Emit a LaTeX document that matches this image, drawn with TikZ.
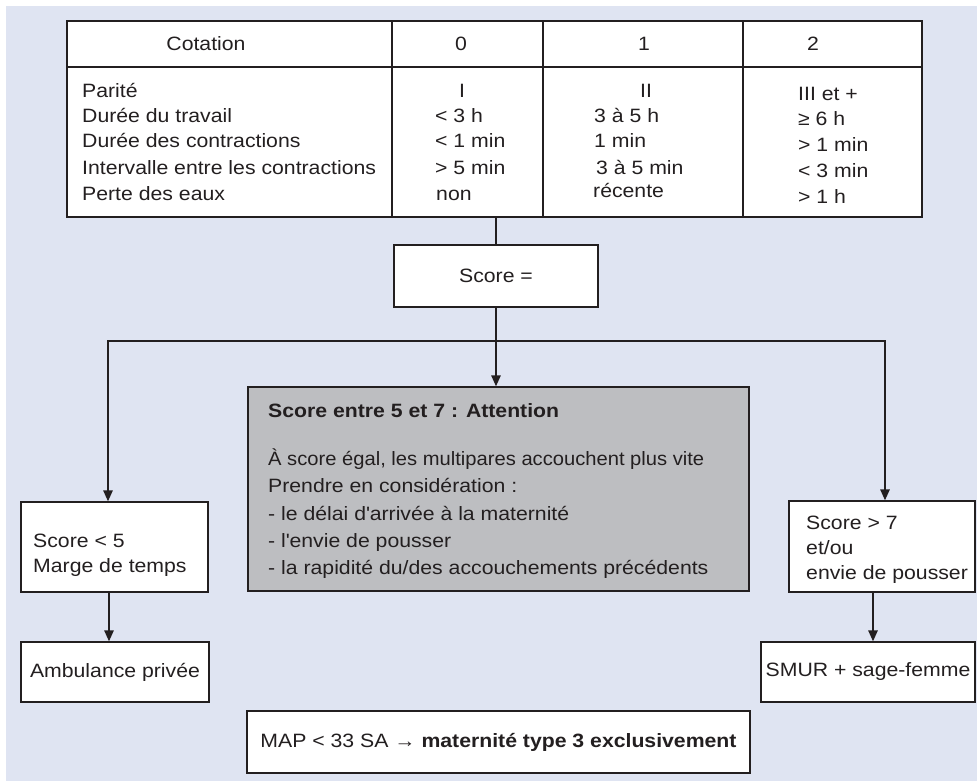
\documentclass[tikz,border=0pt]{standalone}
\usepackage{fontspec}
\setmainfont[FakeStretch=1.1]{Liberation Sans}
\usetikzlibrary{arrows.meta}
\definecolor{bgblue}{HTML}{DFE4F2}
\definecolor{boxgrey}{HTML}{BDBEC1}
\definecolor{ink}{HTML}{231F20}
\newcommand\fs{\fontsize{19.3}{25}\selectfont}
\tikzset{
  box/.style={draw=ink, line width=1.4pt, fill=white, inner sep=0pt},
  greybox/.style={box, fill=boxgrey},
  txt/.style={anchor=base west, inner sep=0pt, text=ink, font=\fs},
  ctxt/.style={anchor=base, inner sep=0pt, text=ink, font=\fs},
  link/.style={draw=ink, line width=1.4pt},
  arr/.style={link, -{Triangle[length=11pt,width=9.5pt]}}
}
\begin{document}
\begin{tikzpicture}[x=1pt,y=-1pt]
\useasboundingbox (0,0) rectangle (977,781);
\fill[bgblue] (6,6) rectangle (977,781);

% table
\node[box, minimum width=855pt, minimum height=196pt] (tbl) at (494.5,119) {};
\draw[link] (67,67) -- (922,67);
\draw[link] (392,21) -- (392,217);
\draw[link] (543,21) -- (543,217);
\draw[link] (743,21) -- (743,217);

\node[ctxt] (h0) at (206,51) {Cotation};
\node[ctxt] (h1) at (461,51) {0};
\node[ctxt] (h2) at (644,51) {1};
\node[ctxt] (h3) at (813,51) {2};

\node[txt] (l1) at (82,98) {Parité};
\node[txt] (l2) at (82,123) {Durée du travail};
\node[txt] (l3) at (82,148) {Durée des contractions};
\node[txt] (l4) at (82,174) {Intervalle entre les contractions};
\node[txt] (l5) at (82,200) {Perte des eaux};

\node[ctxt] (a1) at (462,98) {I};
\node[txt] (a2) at (435,123) {< 3 h};
\node[txt] (a3) at (435,148) {< 1 min};
\node[txt] (a4) at (435,174) {> 5 min};
\node[txt] (a5) at (436,200) {non};

\node[ctxt] (b1) at (646,98) {II};
\node[txt] (b2) at (594,123) {3 à 5 h};
\node[txt] (b3) at (594,148) {1 min};
\node[txt] (b4) at (596,175) {3 à 5 min};
\node[txt] (b5) at (593,197) {récente};

\node[txt] (c1) at (798,101) {III et +};
\node[txt] (c2) at (798,126) {≥ 6 h};
\node[txt] (c3) at (798,151) {> 1 min};
\node[txt] (c4) at (798,177) {< 3 min};
\node[txt] (c5) at (798,203) {> 1 h};

% score box
\node[box, minimum width=204pt, minimum height=62pt, font=\fs, text=ink] (score) at (496,276) {Score =};

% grey box
\node[greybox, minimum width=501pt, minimum height=204pt] (grey) at (498.5,489) {};
\node[txt, font=\fs\bfseries] (g0) at (268,417) {Score entre 5 et 7 : Attention};
\node[txt] (g1) at (268,465) {\scalebox{0.95}[1]{À score égal, les multipares accouchent plus vite}};
\node[txt] (g2) at (268,492) {Prendre en considération :};
\node[txt] (g3) at (268,520) {- le délai d\textquotesingle arrivée à la maternité};
\node[txt] (g4) at (268,547) {- l\textquotesingle envie de pousser};
\node[txt] (g5) at (268,574) {- la rapidité du/des accouchements précédents};

% left branch
\node[box, minimum width=187pt, minimum height=90pt] (low) at (114.5,547) {};
\node[txt] (lowt1) at (33,547) {Score < 5};
\node[txt] (lowt2) at (33,572) {Marge de temps};
\node[box, minimum width=188pt, minimum height=60pt, font=\fs, text=ink] (amb) at (115,672) {Ambulance privée};

% right branch
\node[box, minimum width=186pt, minimum height=91pt] (high) at (882,546.5) {};
\node[txt] (hight1) at (806,529) {Score > 7};
\node[txt] (hight2) at (806,554) {et/ou};
\node[txt] (hight3) at (806,579) {envie de pousser};
\node[box, minimum width=214pt, minimum height=60pt, font=\fs, text=ink] (smur) at (868,672) {SMUR + sage-femme};

% bottom box
\node[box, minimum width=503pt, minimum height=62pt, font=\fs, text=ink] (map) at (498.5,742) {MAP < 33 SA → \textbf{maternité type 3 exclusivement}};

% connectors
\coordinate (jc) at (496,341);
\coordinate (jl) at (108,341);
\coordinate (jr) at (885,341);
\coordinate (xl) at (109,600);
\coordinate (xr) at (873,600);

\draw[link] (score.north) -- (score.north |- tbl.south);
\draw[arr] (score.south) -- (score.south |- grey.north);
\draw[arr] (jc) -- (jl) -- (jl |- low.north);
\draw[arr] (jc) -- (jr) -- (jr |- high.north);
\draw[arr] (low.south -| xl) -- (amb.north -| xl);
\draw[arr] (high.south -| xr) -- (smur.north -| xr);
\end{tikzpicture}
\end{document}
